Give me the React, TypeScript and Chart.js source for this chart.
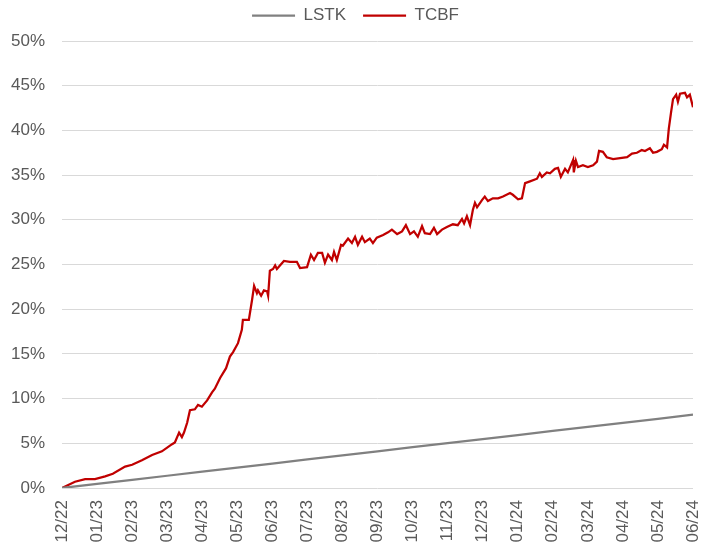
import React, { useEffect, useRef } from "react";
import { Chart, registerables } from "chart.js";

Chart.register(...registerables);

const monthLabels = [
  "12/22", "01/23", "02/23", "03/23", "04/23", "05/23", "06/23", "07/23", "08/23", "09/23",
  "10/23", "11/23", "12/23", "01/24", "02/24", "03/24", "04/24", "05/24", "06/24",
];

const yTicks = [0, 5, 10, 15, 20, 25, 30, 35, 40, 45, 50];

// LSTK: month-end values (%)
const lstkX = [0, 1, 2, 3, 4, 5, 6, 7, 8, 9, 10, 11, 12, 13, 14, 15, 16, 17, 18];
const lstkY = [0.0, 0.46, 0.91, 1.37, 1.82, 2.28, 2.73, 3.19, 3.64, 4.1, 4.56, 5.01, 5.47, 5.92, 6.38, 6.83, 7.29, 7.74, 8.2];

// TCBF: position in months since 12/22, value in %
const tcbfX = [
  0, 0.37, 0.66, 0.94, 1.23, 1.45, 1.8, 2.0, 2.28, 2.57, 2.85, 3.14, 3.22, 3.34, 3.42, 3.48, 3.57, 3.65,
  3.79, 3.88, 3.99, 4.14, 4.28, 4.36, 4.51, 4.68, 4.79, 4.88, 5.02, 5.13, 5.16, 5.33, 5.42, 5.48, 5.56,
  5.59, 5.68, 5.76, 5.85, 5.88, 5.93, 6.02, 6.08, 6.13, 6.33, 6.5, 6.7, 6.79, 6.99, 7.1, 7.19, 7.3,
  7.42, 7.5, 7.59, 7.7, 7.76, 7.84, 7.96, 8.01, 8.16, 8.27, 8.36, 8.44, 8.56, 8.64, 8.78, 8.87, 8.98,
  9.16, 9.3, 9.41, 9.56, 9.7, 9.81, 9.93, 10.04, 10.15, 10.27, 10.35, 10.5, 10.61, 10.7, 10.84, 10.98,
  11.15, 11.29, 11.41, 11.47, 11.55, 11.64, 11.72, 11.78, 11.84, 11.98, 12.06, 12.15, 12.29, 12.44,
  12.58, 12.78, 12.86, 13.01, 13.12, 13.21, 13.35, 13.55, 13.63, 13.69, 13.83, 13.92, 14.06, 14.15,
  14.23, 14.35, 14.43, 14.58, 14.6, 14.66, 14.72, 14.86, 15.0, 15.15, 15.26, 15.32, 15.43, 15.54,
  15.72, 15.92, 16.12, 16.26, 16.4, 16.54, 16.63, 16.77, 16.86, 16.97, 17.11, 17.17, 17.26, 17.31,
  17.37, 17.43, 17.52, 17.57, 17.63, 17.77, 17.83, 17.91, 18.0,
];
const tcbfY = [
  0, 0.7, 1.0, 1.0, 1.3, 1.6, 2.4, 2.6, 3.1, 3.7, 4.1, 4.9, 5.1, 6.2, 5.7, 6.2, 7.3, 8.7,
  8.8, 9.3, 9.1, 9.8, 10.7, 11.1, 12.3, 13.4, 14.7, 15.2, 16.2, 17.7, 18.8, 18.8, 21.0, 22.6, 21.8,
  22.1, 21.5, 22.1, 22.0, 21.5, 24.3, 24.5, 24.9, 24.5, 25.4, 25.3, 25.3, 24.6, 24.7, 26.1, 25.5, 26.3,
  26.3, 25.2, 26.1, 25.5, 26.4, 25.5, 27.2, 27.1, 27.9, 27.4, 28.1, 27.2, 28.1, 27.5, 27.9, 27.4, 28.0,
  28.3, 28.6, 28.9, 28.4, 28.7, 29.4, 28.4, 28.7, 28.1, 29.3, 28.5, 28.4, 29.1, 28.4, 28.9, 29.2,
  29.5, 29.4, 30.1, 29.6, 30.4, 29.4, 31.1, 31.9, 31.4, 32.2, 32.6, 32.1, 32.4, 32.4,
  32.6, 33.0, 32.8, 32.3, 32.4, 34.1, 34.3, 34.6, 35.2, 34.8, 35.3, 35.2, 35.7, 35.8,
  34.8, 35.7, 35.3, 36.7, 35.3, 36.6, 35.9, 36.1, 35.9, 36.1, 36.5, 37.7, 37.6, 37.0,
  36.8, 36.9, 37.0, 37.4, 37.5, 37.8, 37.7, 38.0, 37.5, 37.6, 37.9, 38.4, 38.1, 40.2,
  41.9, 43.5, 44.0, 43.2, 44.1, 44.2, 43.7, 44.0, 42.6,
];

const TEXT = "#595959";
const FONT = "'Liberation Sans', Arial, sans-serif";
const LEGEND_TOP = -10;
const LEGEND_EXTRA = 7;
const LEGEND_SHIFT = 4;

const legendFix = {
  id: "legendFix",
  beforeLayout(chart: any) {
    const lg = chart.legend;
    if (lg && !lg._hfix) {
      const orig = lg.fit;
      lg.fit = function () {
        orig.call(this);
        this.height += LEGEND_EXTRA;
      };
      lg._hfix = true;
    }
  },
  afterLayout(chart: any) {
    const lg = chart.legend;
    if (lg) {
      lg.left += LEGEND_SHIFT;
      lg.right += LEGEND_SHIFT;
    }
  },
};

export default function App() {
  const ref = useRef<HTMLCanvasElement | null>(null);

  useEffect(() => {
    if (!ref.current) return;
    const chart = new Chart(ref.current, {
      type: "line",
      data: {
        datasets: [
          {
            label: "LSTK",
            data: lstkX.map((x, i) => ({ x, y: lstkY[i] })),
            borderColor: "#808080",
            backgroundColor: "#808080",
            borderWidth: 2.25,
            pointRadius: 0,
            tension: 0,
          },
          {
            label: "TCBF",
            data: tcbfX.map((x, i) => ({ x, y: tcbfY[i] })),
            borderColor: "#c00000",
            backgroundColor: "#c00000",
            borderWidth: 2.25,
            pointRadius: 0,
            tension: 0,
          },
        ],
      },
      plugins: [legendFix],
      options: {
        animation: false,
        responsive: true,
        maintainAspectRatio: false,
        layout: { padding: { left: 10, right: 12, top: LEGEND_TOP, bottom: 0 } },
        plugins: {
          tooltip: { enabled: false },
          legend: {
            position: "top",
            labels: {
              usePointStyle: true,
              pointStyle: "line",
              pointStyleWidth: 43,
              color: TEXT,
              font: { family: FONT, size: 17 },
              padding: 17,
            },
          },
        },
        scales: {
          x: {
            type: "linear",
            min: 0,
            max: monthLabels.length - 1,
            grid: { display: false, drawTicks: false },
            border: { display: false },
            afterBuildTicks: (axis: any) => {
              axis.ticks = monthLabels.map((_, i) => ({ value: i }));
            },
            afterFit: (axis: any) => {
              axis.paddingLeft = 0;
              axis.paddingRight = 0;
              axis.height = 56;
            },
            ticks: {
              autoSkip: false,
              minRotation: 90,
              maxRotation: 90,
              padding: 12,
              color: TEXT,
              font: { family: FONT, size: 17 },
              callback: (v: any) => monthLabels[Math.round(Number(v))] ?? "",
            },
          },
          y: {
            min: yTicks[0],
            max: yTicks[yTicks.length - 1],
            afterBuildTicks: (axis: any) => {
              axis.ticks = yTicks.map((v) => ({ value: v }));
            },
            afterFit: (axis: any) => {
              axis.width = 52;
            },
            grid: { color: "#d9d9d9", lineWidth: 1, drawTicks: false },
            border: { display: false },
            ticks: {
              padding: 17,
              color: TEXT,
              font: { family: FONT, size: 17 },
              callback: (v: any) => `${v}%`,
            },
          },
        },
      },
    });
    return () => chart.destroy();
  }, []);

  return (
    <div style={{ position: "absolute", left: 0, top: 0, width: 705, height: 544 }}>
      <canvas ref={ref} />
    </div>
  );
}
